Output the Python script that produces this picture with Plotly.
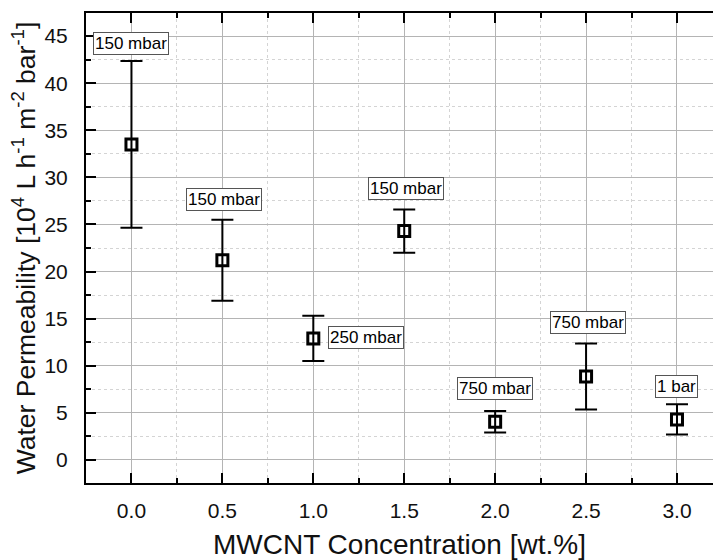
import plotly.graph_objects as go

# MWCNT loading (wt.%) vs. water permeability, with standard deviations
concentration = [0.0, 0.5, 1.0, 1.5, 2.0, 2.5, 3.0]
permeability = [33.5, 21.2, 12.9, 24.3, 4.05, 8.85, 4.3]
std_dev = [8.85, 4.3, 2.4, 2.3, 1.15, 3.5, 1.6]

# Transmembrane pressure used for each membrane
pressure_labels = ["150 mbar", "150 mbar", "250 mbar", "150 mbar", "750 mbar", "750 mbar", "1 bar"]
label_x = [0.0, 0.51, 1.08, 1.51, 2.0, 2.51, 3.0]
label_y = [44.2, 27.6, 12.95, 28.8, 7.6, 14.6, 7.8]
label_anchor = ["center", "center", "left", "center", "center", "center", "center"]

x_ticks = [0.0, 0.5, 1.0, 1.5, 2.0, 2.5, 3.0]
y_ticks = [0, 5, 10, 15, 20, 25, 30, 35, 40, 45]

FONT = "Arial, Liberation Sans, sans-serif"

fig = go.Figure()
fig.add_trace(go.Scatter(
    x=concentration,
    y=permeability,
    mode="markers",
    marker=dict(symbol="square-open", size=11, color="black", line=dict(width=3, color="black")),
    error_y=dict(type="data", array=std_dev, visible=True, color="black", thickness=2, width=11),
    showlegend=False,
))

for txt, xv, yv, anc in zip(pressure_labels, label_x, label_y, label_anchor):
    fig.add_annotation(
        x=xv, y=yv, text=txt, showarrow=False, xanchor=anc, yanchor="middle",
        font=dict(family=FONT, size=17, color="black"),
        bgcolor="white", bordercolor="#555", borderwidth=1, borderpad=1,
    )

axis_font = dict(family=FONT, size=21, color="#111")
fig.update_xaxes(
    range=[-0.25, 3.198], tickvals=x_ticks, ticktext=[f"{v:.1f}" for v in x_ticks],
    ticks="inside", ticklen=10, tickwidth=2, tickcolor="black",
    showline=True, linewidth=2, linecolor="black", mirror="ticks",
    showgrid=True, gridcolor="#b4b4b4", gridwidth=1, zeroline=False,
    minor=dict(dtick=0.25, tick0=0, ticks="inside", ticklen=5, tickwidth=2, tickcolor="black",
               showgrid=True, gridcolor="#d4d4d4", griddash="dot", gridwidth=1),
    tickfont=axis_font, ticklabelstandoff=8,
    title=dict(text="MWCNT Concentration [wt.%]", font=dict(family=FONT, size=28, color="#111"), standoff=16),
)
fig.update_yaxes(
    range=[-2.45, 47.45], tickvals=y_ticks,
    ticks="inside", ticklen=10, tickwidth=2, tickcolor="black",
    showline=True, linewidth=2, linecolor="black", mirror=False,
    showgrid=True, gridcolor="#b4b4b4", gridwidth=1, zeroline=False,
    minor=dict(dtick=2.5, tick0=0, ticks="inside", ticklen=5, tickwidth=2, tickcolor="black",
               showgrid=True, gridcolor="#d4d4d4", griddash="dot", gridwidth=1),
    tickfont=axis_font, ticklabelstandoff=12,
    title=dict(text="Water Permeability [10<sup>4</sup> L h<sup>-1</sup> m<sup>-2</sup> bar<sup>-1</sup>]",
               font=dict(family=FONT, size=26.5, color="#111"), standoff=1),
)
fig.update_layout(
    width=713, height=560,
    margin=dict(l=86, r=0, t=13, b=77),
    plot_bgcolor="white", paper_bgcolor="white",
)
fig.write_html("out.html")
